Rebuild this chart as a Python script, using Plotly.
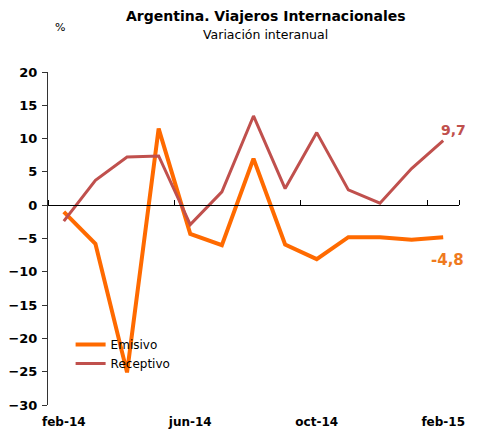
import plotly.graph_objects as go

meses = ["feb-14", "mar-14", "abr-14", "may-14", "jun-14", "jul-14", "ago-14",
         "sep-14", "oct-14", "nov-14", "dic-14", "ene-15", "feb-15"]
emisivo = [-1.0, -5.8, -25.1, 11.5, -4.3, -6.0, 7.0, -5.9, -8.1, -4.8, -4.8, -5.2, -4.8]
receptivo = [-2.4, 3.75, 7.25, 7.4, -2.9, 2.0, 13.4, 2.5, 10.9, 2.3, 0.3, 5.5, 9.7]
tick_meses = ["feb-14", "jun-14", "oct-14", "feb-15"]
tick_labels = ["feb-14", "jun-14", "oct-14", "feb-15"]

FONT = "DejaVu Sans"
C_EMI = "#ff6a00"
C_REC = "#c0504d"


def fmt(v):
    return ("%.1f" % v).replace(".", ",")


fig = go.Figure()
fig.add_trace(go.Scatter(x=meses, y=emisivo, mode="lines", name="Emisivo",
                         line=dict(color=C_EMI, width=4)))
fig.add_trace(go.Scatter(x=meses, y=receptivo, mode="lines", name="Receptivo",
                         line=dict(color=C_REC, width=3)))
# helper trace for the axis drawn along y = 0
fig.add_trace(go.Scatter(x=meses, y=receptivo, mode="lines", xaxis="x2",
                         line=dict(width=0, color="rgba(0,0,0,0)"),
                         showlegend=False, hoverinfo="skip"))

fig.add_annotation(x=meses[-1], y=receptivo[-1], text="<b>%s</b>" % fmt(receptivo[-1]),
                   showarrow=False, xanchor="center", yanchor="bottom",
                   xshift=10, yshift=1, font=dict(family=FONT, size=14, color=C_REC))
fig.add_annotation(x=meses[-1], y=emisivo[-1], text="<b>%s</b>" % fmt(emisivo[-1]),
                   showarrow=False, xanchor="center", yanchor="top",
                   xshift=4, yshift=-12, font=dict(family=FONT, size=15, color="#ef7a1e"))

fig.update_layout(
    width=470, height=422,
    margin=dict(l=40, r=19, t=64, b=25, autoexpand=False),
    paper_bgcolor="white", plot_bgcolor="white",
    font=dict(family=FONT, color="black"),
    showlegend=True,
    legend=dict(x=0.055, y=0.225, xanchor="left", yanchor="top",
                bgcolor="rgba(0,0,0,0)", font=dict(family=FONT, size=12),
                tracegroupgap=0, itemwidth=30),
    xaxis=dict(type="category", range=[-0.5, 12.5], showline=False, ticks="",
               showgrid=False, zeroline=False, automargin=False,
               ticklabelstandoff=8,
               tickvals=tick_meses, ticktext=["<b>%s</b>" % t for t in tick_labels],
               tickfont=dict(family=FONT, size=12, color="black")),
    xaxis2=dict(type="category", overlaying="x", matches="x", anchor="free",
                position=0.6, side="top", showline=True, linecolor="black",
                linewidth=1, ticks="outside", ticklen=5, tickcolor="black",
                tickson="boundaries", tickvals=tick_meses, showticklabels=False,
                showgrid=False, zeroline=False, automargin=False),
    yaxis=dict(range=[-30, 20], dtick=5, tick0=0, showline=True, linecolor="#333333",
               linewidth=1, ticks="outside", ticklen=5, tickcolor="#333333",
               showgrid=False, zeroline=False, automargin=False,
               ticklabelstandoff=2,
               tickfont=dict(family=FONT, size=13, color="black"),
               tickprefix="<b>", ticksuffix="</b>"),
    annotations=list(fig.layout.annotations) + [
        dict(text="<b>Argentina. Viajeros Internacionales</b>", xref="paper", yref="paper",
             x=0.53, y=1.0, yshift=46, showarrow=False, xanchor="center", yanchor="bottom",
             font=dict(family=FONT, size=14, color="black")),
        dict(text="Variación interanual", xref="paper", yref="paper",
             x=0.53, y=1.0, yshift=28, showarrow=False, xanchor="center", yanchor="bottom",
             font=dict(family=FONT, size=12.5, color="black")),
        dict(text="%", xref="paper", yref="paper",
             x=0.03, y=1.0, yshift=36, showarrow=False, xanchor="center", yanchor="bottom",
             font=dict(family=FONT, size=11, color="black")),
    ],
)

fig.write_html("out.html")
